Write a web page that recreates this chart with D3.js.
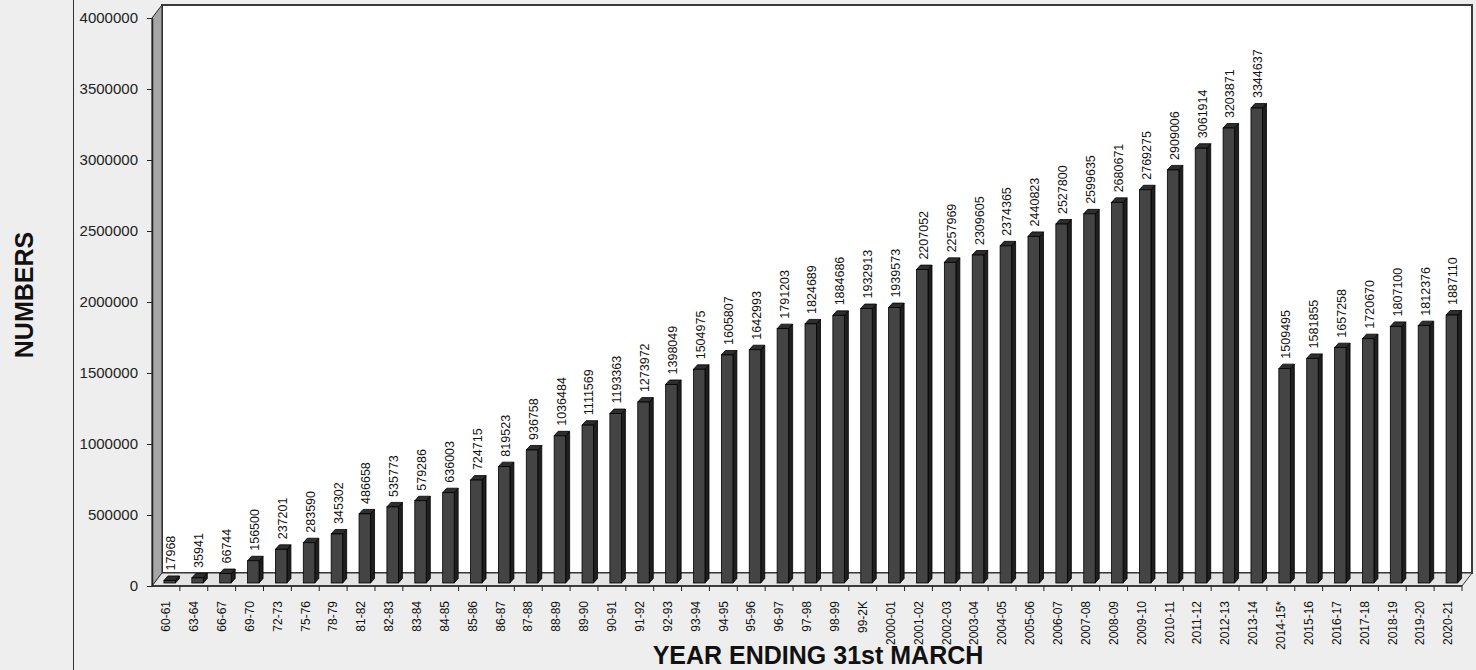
<!DOCTYPE html>
<html>
<head>
<meta charset="utf-8">
<script src="https://cdn.jsdelivr.net/npm/d3@7"></script>
<style>
  body { margin: 0; background: #eeeeee; }
  svg { display: block; font-family: Arial, "Liberation Sans", sans-serif; }
</style>
</head>
<body>
<div id="chart"></div>
<script>
// categories (year ending 31st March)
var years = ["60-61", "63-64", "66-67", "69-70", "72-73", "75-76", "78-79", "81-82", "82-83", "83-84",
  "84-85", "85-86", "86-87", "87-88", "88-89", "89-90", "90-91", "91-92", "92-93", "93-94",
  "94-95", "95-96", "96-97", "97-98", "98-99", "99-2K", "2000-01", "2001-02", "2002-03", "2003-04",
  "2004-05", "2005-06", "2006-07", "2007-08", "2008-09", "2009-10", "2010-11", "2011-12", "2012-13", "2013-14",
  "2014-15*", "2015-16", "2016-17", "2017-18", "2018-19", "2019-20", "2020-21"];

// numbers
var numbers = [17968, 35941, 66744, 156500, 237201, 283590, 345302, 486658, 535773, 579286,
  636003, 724715, 819523, 936758, 1036484, 1111569, 1193363, 1273972, 1398049, 1504975,
  1605807, 1642993, 1791203, 1824689, 1884686, 1932913, 1939573, 2207052, 2257969, 2309605,
  2374365, 2440823, 2527800, 2599635, 2680671, 2769275, 2909006, 3061914, 3203871, 3344637,
  1509495, 1581855, 1657258, 1720670, 1807100, 1812376, 1887110];

var yTicks = [0, 500000, 1000000, 1500000, 2000000, 2500000, 3000000, 3500000, 4000000];

var data = years.map(function(y, i) { return { year: y, value: numbers[i] }; });

var svgWidth = 1476;
var svgHeight = 670;

// plot box (front plane) and 3d depth of the walls
var plotLeft = 152, plotRight = 1462, plotBottom = 586, plotTop = 18;
var depthX = 10, depthY = 13;

var svg = d3.select("#chart")
  .append("svg")
  .attr("width", svgWidth)
  .attr("height", svgHeight);

svg.append("rect")
  .attr("width", svgWidth)
  .attr("height", svgHeight)
  .attr("fill", "#eeeeee");

// thin border line on the left
svg.append("line")
  .attr("x1", 73.5).attr("x2", 73.5)
  .attr("y1", 0).attr("y2", svgHeight)
  .attr("stroke", "#333");

var xScale = d3.scaleBand()
  .domain(years)
  .range([plotLeft, plotRight])
  .padding(0);

var yScale = d3.scaleLinear()
  .domain([0, 4000000])
  .range([plotBottom, plotTop]);

// back wall
svg.append("rect")
  .attr("x", plotLeft + depthX)
  .attr("y", plotTop - depthY)
  .attr("width", plotRight - plotLeft)
  .attr("height", plotBottom - plotTop)
  .attr("fill", "#ffffff")
  .attr("stroke", "#3a3a3a")
  .attr("stroke-width", 2);

// side wall
svg.append("path")
  .attr("d", `M${plotLeft},${plotTop} L${plotLeft + depthX},${plotTop - depthY} L${plotLeft + depthX},${plotBottom - depthY} L${plotLeft},${plotBottom} Z`)
  .attr("fill", "#a6a6a6")
  .attr("stroke", "#222")
  .attr("stroke-width", 1);

// floor
svg.append("path")
  .attr("d", `M${plotLeft},${plotBottom} L${plotLeft + depthX},${plotBottom - depthY} L${plotRight + depthX},${plotBottom - depthY} L${plotRight},${plotBottom} Z`)
  .attr("fill", "#e4e4e4")
  .attr("stroke", "#333")
  .attr("stroke-width", 1);

// y axis
var leftAxis = d3.axisLeft(yScale)
  .tickValues(yTicks)
  .tickSize(5)
  .tickSizeOuter(0)
  .tickFormat(d3.format("d"));

var yAxis = svg.append("g")
  .attr("transform", `translate(${plotLeft}, 0)`)
  .call(leftAxis);

yAxis.select(".domain").attr("stroke", "#222").attr("stroke-width", 1.5);
yAxis.selectAll(".tick line").attr("stroke", "#222");
yAxis.selectAll("text")
  .attr("x", -14)
  .attr("fill", "#222")
  .style("font-size", "15px");

// x axis line and boundary ticks
svg.append("line")
  .attr("x1", plotLeft).attr("x2", plotRight)
  .attr("y1", plotBottom).attr("y2", plotBottom)
  .attr("stroke", "#222")
  .attr("stroke-width", 1.5);

svg.selectAll(".xtick")
  .data(years.slice(1).concat([null]))
  .enter()
  .append("line")
  .attr("class", "xtick")
  .attr("x1", d => d === null ? plotRight : xScale(d))
  .attr("x2", d => d === null ? plotRight : xScale(d))
  .attr("y1", plotBottom)
  .attr("y2", plotBottom + 5)
  .attr("stroke", "#222");

// 3d bars
var bw = xScale.bandwidth();
var barW = 11.5, barDx = 4, barDy = 4.5, barLift = 3;

var bars = svg.selectAll(".bar")
  .data(data)
  .enter()
  .append("g")
  .attr("class", "bar");

function barX(d) { return xScale(d.year) + bw / 2 - 2; }
function barTop(d) { return yScale(d.value) - barLift; }
var barBase = plotBottom - barLift;

// side face
bars.append("path")
  .attr("d", function(d) {
    var x = barX(d) + barW, t = barTop(d);
    return `M${x},${t} L${x + barDx},${t - barDy} L${x + barDx},${barBase - barDy} L${x},${barBase} Z`;
  })
  .attr("fill", "#1f1f1f")
  .attr("stroke", "#000")
  .attr("stroke-width", 0.8);

// top face
bars.append("path")
  .attr("d", function(d) {
    var x = barX(d), t = barTop(d);
    return `M${x},${t} L${x + barDx},${t - barDy} L${x + barW + barDx},${t - barDy} L${x + barW},${t} Z`;
  })
  .attr("fill", "#2e2e2e")
  .attr("stroke", "#000")
  .attr("stroke-width", 0.8);

// front face
bars.append("rect")
  .attr("x", barX)
  .attr("y", barTop)
  .attr("width", barW)
  .attr("height", d => barBase - barTop(d))
  .attr("fill", "#444444")
  .attr("stroke", "#000")
  .attr("stroke-width", 0.8);

// value labels
svg.selectAll(".value-label")
  .data(data)
  .enter()
  .append("text")
  .attr("class", "value-label")
  .attr("transform", d => `translate(${xScale(d.year) + bw / 2 + 5}, ${barTop(d) - 10}) rotate(-90)`)
  .attr("dy", "0.35em")
  .attr("text-anchor", "start")
  .attr("fill", "#111")
  .style("font-size", "12.5px")
  .text(d => d.value);

// category labels
svg.selectAll(".year-label")
  .data(years)
  .enter()
  .append("text")
  .attr("class", "year-label")
  .attr("transform", d => `translate(${xScale(d) + bw / 2}, 601) rotate(-90)`)
  .attr("dy", "0.35em")
  .attr("text-anchor", "end")
  .attr("fill", "#111")
  .style("font-size", "12px")
  .text(d => d);

// axis titles
svg.append("text")
  .attr("x", 818)
  .attr("y", 664)
  .attr("text-anchor", "middle")
  .style("font-size", "25px")
  .style("font-weight", "bold")
  .attr("fill", "#111")
  .text("YEAR ENDING 31st MARCH");

svg.append("text")
  .attr("transform", "translate(24, 295) rotate(-90)")
  .attr("dy", "0.35em")
  .attr("text-anchor", "middle")
  .style("font-size", "25px")
  .style("font-weight", "bold")
  .attr("fill", "#111")
  .text("NUMBERS");
</script>
</body>
</html>
